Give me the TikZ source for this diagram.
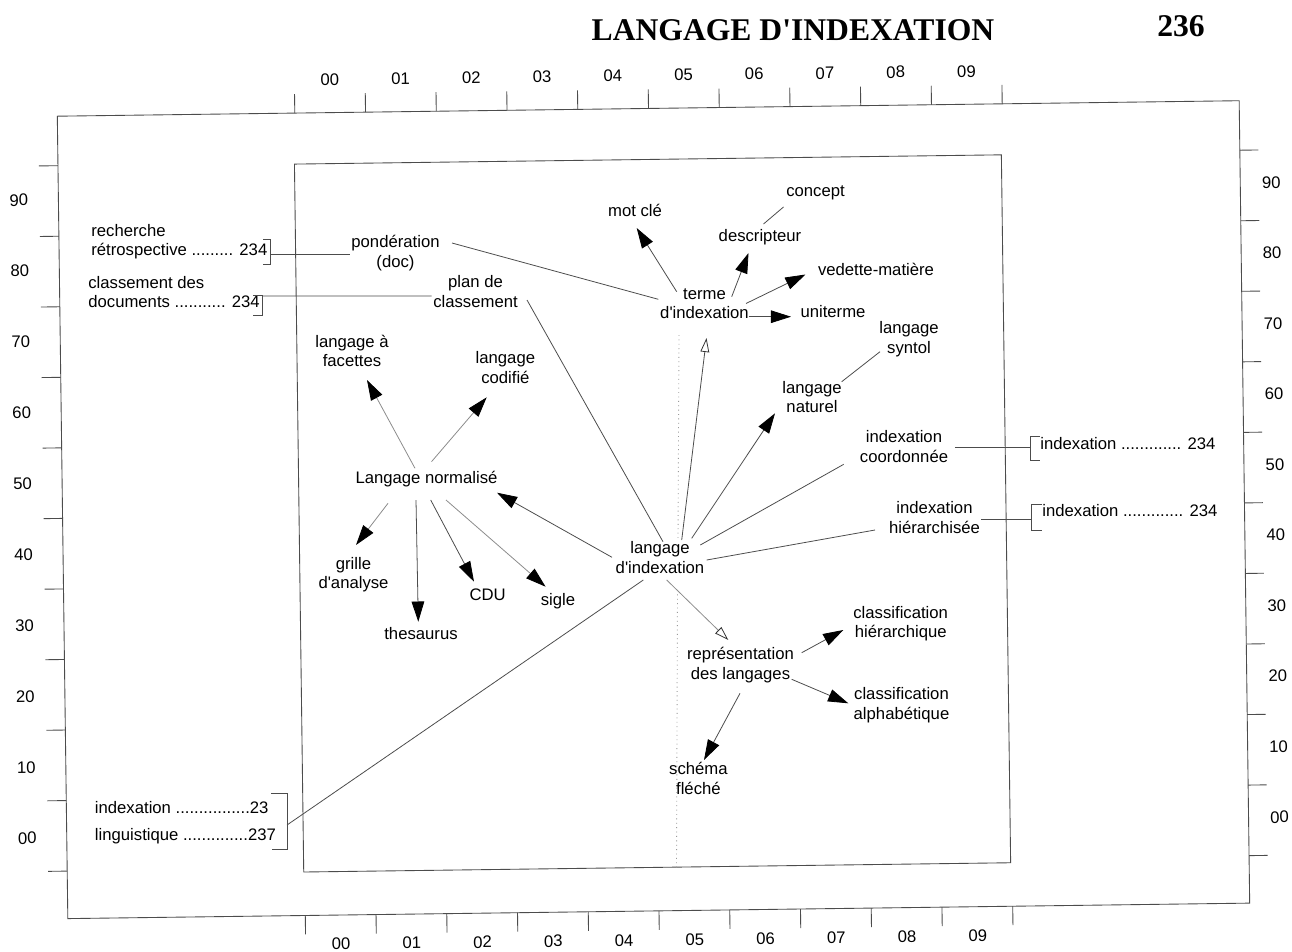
\documentclass[tikz,border=0pt]{standalone}
\usepackage{fontspec}
\setmainfont{Liberation Sans}
\newfontfamily\bodyfont{Liberation Sans}
\newfontfamily\headfont{Liberation Serif}
\usetikzlibrary{arrows.meta,calc}
\newcommand\lbsize{\bodyfont\fontsize{9.5}{11.2}\selectfont}
\newcommand\hdsize{\fontsize{18}{20}\selectfont}
\begin{document}
\begin{tikzpicture}[x=0.02cm,y=-0.02cm,
  lbl/.style={font=\lbsize, align=center, inner sep=0pt,
    execute at begin node=\strut, execute at end node=\strut},
  lleft/.style={lbl, align=left, anchor=west},
  axl/.style={font=\lbsize, inner sep=0pt},
  frame/.style={draw=black!70, line width=0.5pt},
  link/.style={draw=black!70, line width=0.45pt},
  faint/.style={draw=black!45, line width=0.45pt},
  head/.style={-{Triangle[length=11.5pt,width=7.2pt,color=black]}},
  ohead/.style={-{Triangle[open,length=8pt,width=5pt,color=black!80]}},
]
\useasboundingbox (0,0) rectangle (1292,951);
\fill[white] (0,0) rectangle (1292,951);

% heading
\node[anchor=base, font=\headfont\bfseries\hdsize, inner sep=0pt] (title) at (793,40.5) {LANGAGE D'INDEXATION};
\node[anchor=base, font=\headfont\bfseries\hdsize, inner sep=0pt] (page) at (1181,36) {236};

% grid frame with its graduations (the sheet sits slightly turned)
\begin{scope}[rotate around={0.75:(646,510)}, transform shape]
  \draw[frame] (62.5,108.5) rectangle (1244.5,911);
  \draw[frame] (299,159.5) rectangle (1006,867.5);
  \foreach \i in {0,...,10} {
    \pgfmathsetmacro\tx{300+70.75*\i}
    \pgfmathsetmacro\ty{158+70.55*\i}
    \draw[frame] (\tx,108.5) -- (\tx,89.5);
    \draw[frame] (\tx,911) -- (\tx,930);
    \draw[frame] (62.5,\ty) -- (43.5,\ty);
    \draw[frame] (1244.5,\ty) -- (1263,\ty);
  }
  \foreach \l [count=\i from 0] in {00,01,02,03,04,05,06,07,08,09} {
    \pgfmathsetmacro\tx{335.4+70.75*\i}
    \node[axl] (top\i) at (\tx,75.5) {\l};
    \node[axl] (bot\i) at (\tx,940) {\l};
  }
  \foreach \l [count=\i from 0] in {90,80,70,60,50,40,30,20,10,00} {
    \pgfmathsetmacro\tyl{192+70.9*\i}
    \pgfmathsetmacro\tyr{190.5+70.55*\i}
    \node[axl] (lft\i) at (23,\tyl) {\l};
    \node[axl] (rgt\i) at (1275.5,\tyr) {\l};
  }
\end{scope}

% faint fold line down the middle of the sheet
\draw[black!40, dotted, line width=0.5pt] (679,335) -- (678,540);
\draw[black!40, dotted, line width=0.5pt] (677.5,590) -- (676.5,868);

% terms
\node[lleft] (rech) at (91,243) {recherche\\rétrospective ......... 234};
\node[lleft] (clas) at (88,295) {classement des\\documents ........... 234};
\node[lbl] (pond) at (395.5,254) {pondération\\(doc)};
\node[lbl] (planc) at (475.5,294.5) {plan de\\classement};
\node[lbl] (motcle) at (635,212.5) {mot clé};
\node[lbl] (concept) at (815.5,193) {concept};
\node[lbl] (descr) at (760,238) {descripteur};
\node[lbl] (vedette) at (876,272) {vedette-matière};
\node[lbl] (terme) at (704.5,306.5) {terme\\d'indexation};
\node[lbl] (uniterme) at (833,314) {uniterme};
\node[lbl] (syntol) at (909,340.5) {langage\\syntol};
\node[lbl] (naturel) at (812,400) {langage\\naturel};
\node[lbl] (coord) at (904,449.7) {indexation\\coordonnée};
\node[lbl] (hier) at (934.5,520.5) {indexation\\hiérarchisée};
\node[lbl] (facettes) at (352,353.7) {langage à\\facettes};
\node[lbl] (codifie) at (505.4,370.3) {langage\\codifié};
\node[lbl] (normalise) at (426.5,480) {Langage normalisé};
\node[lbl] (grille) at (353.5,575.8) {grille\\d'analyse};
\node[lbl] (thesaurus) at (421,636) {thesaurus};
\node[lbl] (cdu) at (487.6,596.7) {CDU};
\node[lbl] (sigle) at (558,601.7) {sigle};
\node[lbl] (lindex) at (660,560.5) {langage\\d'indexation};
\node[lbl] (repr) at (740.5,666.3) {représentation\\des langages};
\node[lbl] (chier) at (900.7,625) {classification\\hiérarchique};
\node[lbl] (calpha) at (901.5,706.3) {classification\\alphabétique};
\node[lbl] (schema) at (698.4,781.4) {schéma\\fléché};
\node[lleft] (idxc) at (1040,446) {indexation ............. 234};
\node[lleft] (idxh) at (1042,512.7) {indexation ............. 234};
\node[lleft] (idx23) at (94.6,809.3) {indexation ................23};
\node[lleft] (ling) at (94.6,836.7) {linguistique ..............237};

% reference brackets
\draw[frame] (263,239) -- (270.5,239) -- (270.5,264) -- (263,264);
\coordinate (br1) at (270.5,254);
\draw[frame] (253,295.5) -- (262,295.5) -- (262,315) -- (253,315);
\coordinate (br2) at (262,296);
\draw[frame] (271,793.5) -- (287,793.5) -- (287,849) -- (272,849);
\coordinate (br3) at (287,825);
\draw[frame] (1040,436.7) -- (1030.5,436.7) -- (1030.5,460) -- (1040,460);
\coordinate (br4) at (1030.5,447.3);
\draw[frame] (1042,504) -- (1031.7,504) -- (1031.7,530.7) -- (1042,530.7);
\coordinate (br5) at (1031.7,519);

% connectors
\draw[link] (br1) -- ($(pond)+(-45.5,0)$);
\draw[link] (br2) -- ($(planc)+(-44,1.5)$);
\draw[link] ($(pond)+(56.5,-11)$) -- ($(terme)+(-46.2,-7.2)$);
\draw[link] ($(planc)+(51.5,5.5)$) -- ($(lindex)+(3,-18.8)$);
\draw[link,head] ($(terme)+(-27.8,-14.8)$) -- ($(motcle)+(1.7,15.5)$);
\draw[link,head] ($(terme)+(27.2,-9.8)$) -- ($(descr)+(-11.5,15)$);
\draw[link] ($(descr)+(3.5,-14)$) -- ($(concept)+(-32,14)$);
\draw[link,head] ($(terme)+(41.5,-3)$) -- ($(vedette)+(-70.5,2.5)$);
\draw[link,head] ($(terme)+(44,10.2)$) -- ($(uniterme)+(-42,2.7)$);
\draw[link,ohead] ($(lindex)+(21.7,-20.5)$) -- ($(terme)+(2,31.5)$);
\draw[link] ($(naturel)+(29.7,-18.3)$) -- ($(syntol)+(-29,11.2)$);
\draw[link,head] ($(lindex)+(31.7,-22.2)$) -- ($(naturel)+(-37,13.3)$);
\draw[link] ($(lindex)+(40.3,-15.5)$) -- ($(coord)+(-60.3,14.6)$);
\draw[link] ($(lindex)+(46.7,-0.5)$) -- ($(hier)+(-59.5,9.5)$);
\draw[link,head] ($(lindex)+(-48,-3.2)$) -- ($(normalise)+(70.5,12.7)$);
\draw[faint,ohead] ($(lindex)+(6.7,19.5)$) -- ($(repr)+(-12.2,-26.3)$);
\draw[link] ($(lindex)+(-16.7,19.5)$) -- (br3);
\draw[faint,head] ($(normalise)+(-11.5,-11.7)$) -- ($(facettes)+(15,26.3)$);
\draw[faint,head] ($(normalise)+(5,-18.3)$) -- ($(codifie)+(-18.7,27)$);
\draw[faint,head] ($(normalise)+(-38.5,23.3)$) -- ($(grille)+(2.5,-30.8)$);
\draw[link,head] ($(normalise)+(-10.5,20)$) -- ($(thesaurus)+(-2.7,-14.3)$);
\draw[link,head] ($(normalise)+(4.2,20)$) -- ($(cdu)+(-13.6,-15)$);
\draw[faint,head] ($(normalise)+(19.5,20)$) -- ($(sigle)+(-12.4,-15)$);
\draw[link,head] ($(repr)+(61.2,-13.6)$) -- ($(chier)+(-57.4,5)$);
\draw[link,head] ($(repr)+(51.2,13)$) -- ($(calpha)+(-53.2,-3)$);
\draw[link,head] ($(repr)+(-0.5,27)$) -- ($(schema)+(5.6,-21.4)$);
\draw[link] ($(coord)+(50.8,-2.4)$) -- (br4);
\draw[link] ($(hier)+(46.5,-1.5)$) -- (br5);
\end{tikzpicture}
\end{document}
